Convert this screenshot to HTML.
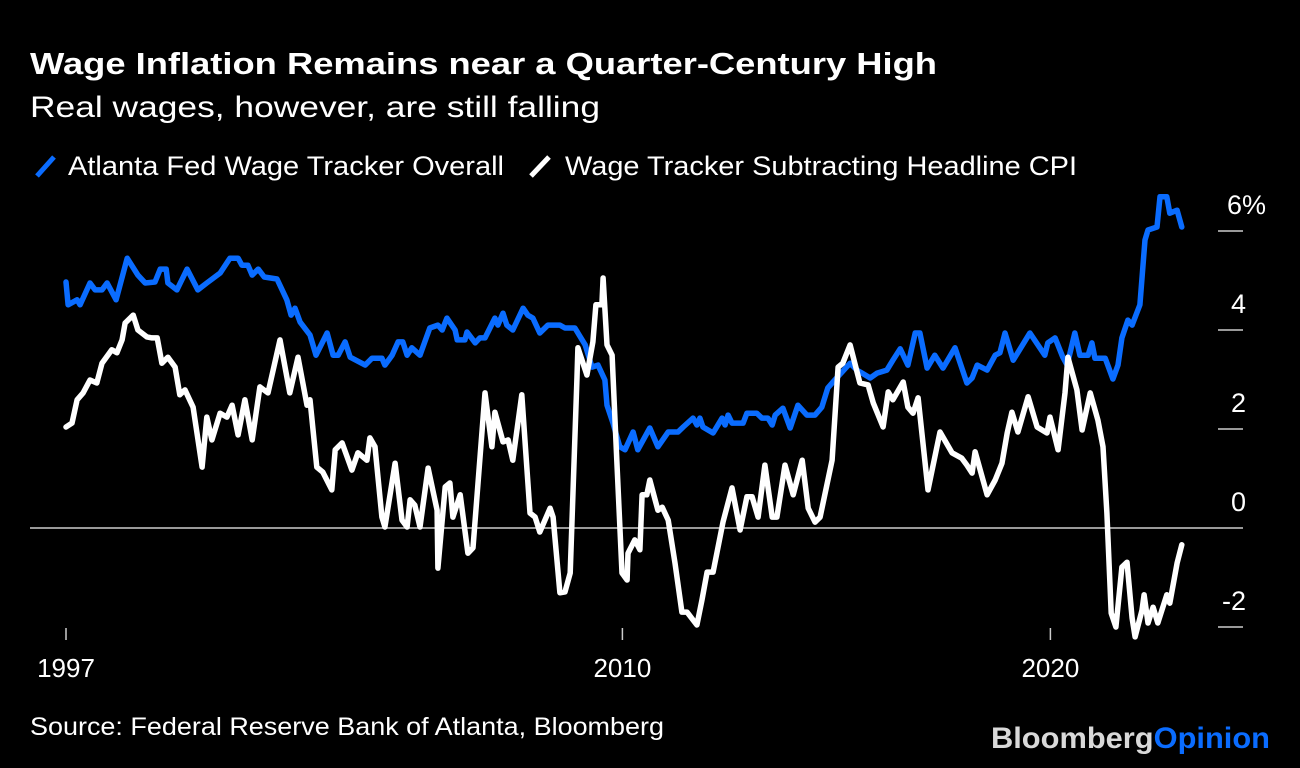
<!DOCTYPE html>
<html><head><meta charset="utf-8"><style>
html,body{margin:0;padding:0;background:#000;}
svg{display:block;font-family:"Liberation Sans",Arial,sans-serif;}
</style></head><body>
<svg id="chart" width="1300" height="768" viewBox="0 0 1300 768">
<rect width="1300" height="768" fill="#000"/>
<text x="30" y="74" fill="#fff" font-size="31" font-weight="bold" textLength="907" lengthAdjust="spacingAndGlyphs">Wage Inflation Remains near a Quarter-Century High</text>
<text x="30" y="117" fill="#fff" font-size="30" textLength="570" lengthAdjust="spacingAndGlyphs">Real wages, however, are still falling</text>
<g>
<g><line x1="37" y1="176" x2="54" y2="157" stroke="#0a6cff" stroke-width="5"/><text x="68" y="175" fill="#fff" font-size="27" textLength="436" lengthAdjust="spacingAndGlyphs">Atlanta Fed Wage Tracker Overall</text></g>
<g><line x1="531" y1="176" x2="549" y2="157" stroke="#fff" stroke-width="5"/><text x="565" y="175" fill="#fff" font-size="27" textLength="512" lengthAdjust="spacingAndGlyphs">Wage Tracker Subtracting Headline CPI</text></g>
</g>
<g id="yaxis"></g>
<g id="xaxis"></g>
<g id="plot"></g>
<text x="30" y="735" fill="#fff" font-size="25" textLength="634" lengthAdjust="spacingAndGlyphs">Source: Federal Reserve Bank of Atlanta, Bloomberg</text>
<text x="991" y="748" font-size="30" font-weight="bold" textLength="279" lengthAdjust="spacingAndGlyphs"><tspan fill="#d9d9d9">Bloomberg</tspan><tspan fill="#0a6cff">Opinion</tspan></text>
</svg>
<script>
const overallDates=[1997.0,1997.05,1997.26,1997.33,1997.56,1997.68,1997.84,1997.96,1998.17,1998.43,1998.68,1998.85,1999.08,1999.2,1999.34,1999.38,1999.59,1999.83,2000.08,2000.29,2000.6,2000.83,2001.02,2001.11,2001.25,2001.35,2001.49,2001.63,2001.93,2002.16,2002.26,2002.35,2002.47,2002.7,2002.84,2003.1,2003.24,2003.36,2003.52,2003.64,2003.99,2004.15,2004.38,2004.45,2004.62,2004.76,2004.87,2004.97,2005.08,2005.27,2005.5,2005.69,2005.79,2005.9,2006.09,2006.14,2006.32,2006.37,2006.56,2006.67,2006.79,2007.02,2007.09,2007.21,2007.3,2007.44,2007.68,2007.79,2007.91,2008.07,2008.26,2008.54,2008.66,2008.89,2009.13,2009.29,2009.43,2009.59,2009.64,2009.78,2009.94,2010.06,2010.25,2010.36,2010.64,2010.83,2011.07,2011.3,2011.42,2011.65,2011.74,2011.81,2011.88,2012.12,2012.33,2012.4,2012.47,2012.56,2012.82,2012.91,2013.14,2013.26,2013.4,2013.5,2013.57,2013.75,2013.92,2014.1,2014.31,2014.5,2014.66,2014.8,2014.92,2015.32,2015.48,2015.6,2015.79,2015.95,2016.18,2016.32,2016.49,2016.67,2016.84,2016.95,2017.12,2017.3,2017.49,2017.77,2018.05,2018.17,2018.29,2018.52,2018.71,2018.82,2018.94,2019.13,2019.52,2019.87,2019.94,2020.11,2020.29,2020.39,2020.57,2020.69,2020.88,2020.97,2021.04,2021.28,2021.46,2021.58,2021.67,2021.81,2021.91,2022.09,2022.21,2022.28,2022.49,2022.56,2022.72,2022.79,2022.96,2023.07];
const overallValues=[4.97,4.51,4.61,4.51,4.95,4.81,4.81,4.95,4.61,5.45,5.11,4.95,4.97,5.23,5.23,4.95,4.81,5.23,4.81,4.95,5.15,5.45,5.45,5.31,5.31,5.11,5.23,5.07,5.03,4.61,4.3,4.44,4.16,3.9,3.49,3.94,3.49,3.49,3.76,3.45,3.29,3.43,3.43,3.29,3.49,3.76,3.76,3.49,3.64,3.49,4.04,4.1,4.0,4.24,4.0,3.8,3.8,3.96,3.74,3.84,3.84,4.24,4.1,4.34,4.1,4.0,4.44,4.3,4.24,3.94,4.1,4.1,4.04,4.04,3.7,3.25,3.29,2.99,2.48,2.12,1.64,1.58,1.94,1.58,2.02,1.64,1.94,1.94,2.04,2.22,2.08,2.22,2.04,1.92,2.22,2.08,2.28,2.12,2.12,2.32,2.32,2.22,2.22,2.08,2.28,2.42,2.02,2.48,2.28,2.28,2.44,2.83,2.95,3.33,3.19,3.13,3.03,3.13,3.19,3.39,3.62,3.29,3.94,3.94,3.23,3.49,3.23,3.64,2.93,3.03,3.29,3.19,3.49,3.54,3.94,3.39,3.94,3.49,3.74,3.84,3.45,3.29,3.94,3.49,3.49,3.74,3.43,3.43,3.01,3.29,3.84,4.2,4.1,4.51,5.82,6.02,6.08,6.69,6.69,6.36,6.42,6.08];
const realDates=[1997.0,1997.14,1997.26,1997.4,1997.56,1997.72,1997.84,1998.07,1998.19,1998.31,1998.38,1998.57,1998.68,1998.89,1999.01,1999.13,1999.24,1999.38,1999.55,1999.66,1999.78,1999.97,2000.18,2000.29,2000.41,2000.6,2000.76,2000.88,2001.02,2001.18,2001.35,2001.53,2001.72,2002.0,2002.23,2002.42,2002.63,2002.7,2002.86,2003.0,2003.21,2003.29,2003.45,2003.68,2003.82,2004.03,2004.1,2004.22,2004.38,2004.45,2004.69,2004.85,2004.97,2005.04,2005.15,2005.27,2005.46,2005.67,2005.69,2005.86,2005.97,2006.04,2006.21,2006.39,2006.51,2006.79,2006.95,2007.02,2007.21,2007.33,2007.44,2007.65,2007.84,2007.96,2008.07,2008.31,2008.38,2008.54,2008.66,2008.78,2008.94,2008.96,2009.17,2009.31,2009.38,2009.52,2009.55,2009.64,2009.76,2009.87,2009.99,2010.11,2010.13,2010.29,2010.41,2010.46,2010.57,2010.64,2010.83,2010.93,2011.07,2011.23,2011.39,2011.51,2011.74,2011.86,2011.98,2012.12,2012.35,2012.56,2012.75,2012.91,2013.03,2013.17,2013.33,2013.5,2013.61,2013.8,2013.99,2014.2,2014.34,2014.5,2014.62,2014.9,2015.04,2015.15,2015.32,2015.55,2015.74,2015.86,2016.09,2016.21,2016.32,2016.56,2016.67,2016.79,2016.91,2017.14,2017.42,2017.7,2017.93,2018.05,2018.17,2018.24,2018.52,2018.71,2018.87,2018.99,2019.1,2019.24,2019.48,2019.69,2019.92,2019.99,2020.18,2020.34,2020.41,2020.62,2020.74,2020.93,2021.11,2021.23,2021.32,2021.42,2021.53,2021.67,2021.79,2021.91,2021.98,2022.14,2022.19,2022.28,2022.4,2022.51,2022.72,2022.79,2022.96,2023.07];
const realValues=[2.04,2.12,2.59,2.73,2.99,2.93,3.33,3.6,3.54,3.8,4.14,4.3,4.0,3.86,3.84,3.84,3.33,3.45,3.25,2.69,2.79,2.44,1.23,2.24,1.78,2.32,2.24,2.48,1.88,2.59,1.78,2.85,2.73,3.8,2.73,3.45,2.48,2.59,1.23,1.13,0.77,1.58,1.72,1.17,1.52,1.37,1.82,1.64,0.22,0.02,1.31,0.16,0.02,0.57,0.46,0.02,1.21,0.36,-0.81,0.83,0.91,0.22,0.67,-0.51,-0.4,2.73,1.64,2.34,1.74,1.78,1.37,2.69,0.3,0.22,-0.08,0.4,0.22,-1.31,-1.29,-0.91,3.05,3.64,3.09,3.76,4.51,4.51,5.05,3.7,3.49,1.37,-0.91,-1.05,-0.51,-0.24,-0.44,0.67,0.67,0.97,0.36,0.42,0.16,-0.71,-1.7,-1.7,-1.96,-1.45,-0.89,-0.89,0.12,0.81,-0.04,0.63,0.63,0.22,1.27,0.22,0.22,1.27,0.67,1.37,0.4,0.12,0.22,1.37,3.25,3.33,3.7,2.93,2.89,2.53,2.04,2.75,2.59,2.95,2.44,2.32,2.63,0.77,1.94,1.52,1.41,1.27,1.11,1.54,0.67,0.97,1.31,1.92,2.34,1.94,2.65,2.04,1.92,2.24,1.58,2.73,3.45,2.79,1.98,2.73,2.18,1.64,0.3,-1.72,-2.0,-0.79,-0.69,-1.82,-2.2,-1.66,-1.35,-1.92,-1.6,-1.92,-1.35,-1.52,-0.71,-0.34];
const yTicks=[6,4,2,0,-2];
const yTickLabels=["6%","4","2","0","-2"];
const xTicks=[1997,2010,2020];
const xTickLabels=["1997","2010","2020"];

const NS="http://www.w3.org/2000/svg";
const xScale=t=>66+(t-1997)*42.8;
const yScale=v=>528-v*49.5;
const yaxis=document.getElementById('yaxis'),xaxis=document.getElementById('xaxis'),plot=document.getElementById('plot');
function mk(tag,attrs,parent){const e=document.createElementNS(NS,tag);for(const k in attrs)e.setAttribute(k,attrs[k]);parent.appendChild(e);return e;}

yTicks.forEach((v,i)=>{
  const y=yScale(v);
  const l=mk('line',{x1:1218,x2:1243,y1:y,y2:y,stroke:'#ccc','stroke-width':1.5},yaxis);
  
  
  const t=mk('text',{x:v===6?1227:1246,y:y-17,fill:'#fff','font-size':27,'text-anchor':v===6?'start':'end'},yaxis);
  t.textContent=yTickLabels[i];
  
  
});
const zl=mk('line',{x1:30,x2:1218,y1:yScale(0),y2:yScale(0),stroke:'#ccc','stroke-width':1.5},yaxis);



xTicks.forEach((yr,i)=>{
  const x=xScale(yr);
  const l=mk('line',{x1:x,x2:x,y1:628,y2:640,stroke:'#ccc','stroke-width':1.5},xaxis);
  
  
  const t=mk('text',{x:x,y:677,fill:'#fff','font-size':26,'text-anchor':'middle'},xaxis);
  t.textContent=xTickLabels[i];
  
  
});

function pathFor(d,v){return d.map((t,i)=>(i?'L':'M')+xScale(t).toFixed(1)+' '+yScale(v[i]).toFixed(1)).join(' ');}
const pO=mk('path',{d:pathFor(overallDates,overallValues),fill:'none',stroke:'#0a6cff','stroke-width':5.5,'stroke-linejoin':'round','stroke-linecap':'round'},plot);


const pR=mk('path',{d:pathFor(realDates,realValues),fill:'none',stroke:'#fff','stroke-width':5.5,'stroke-linejoin':'round','stroke-linecap':'round'},plot);


</script>
</body></html>
